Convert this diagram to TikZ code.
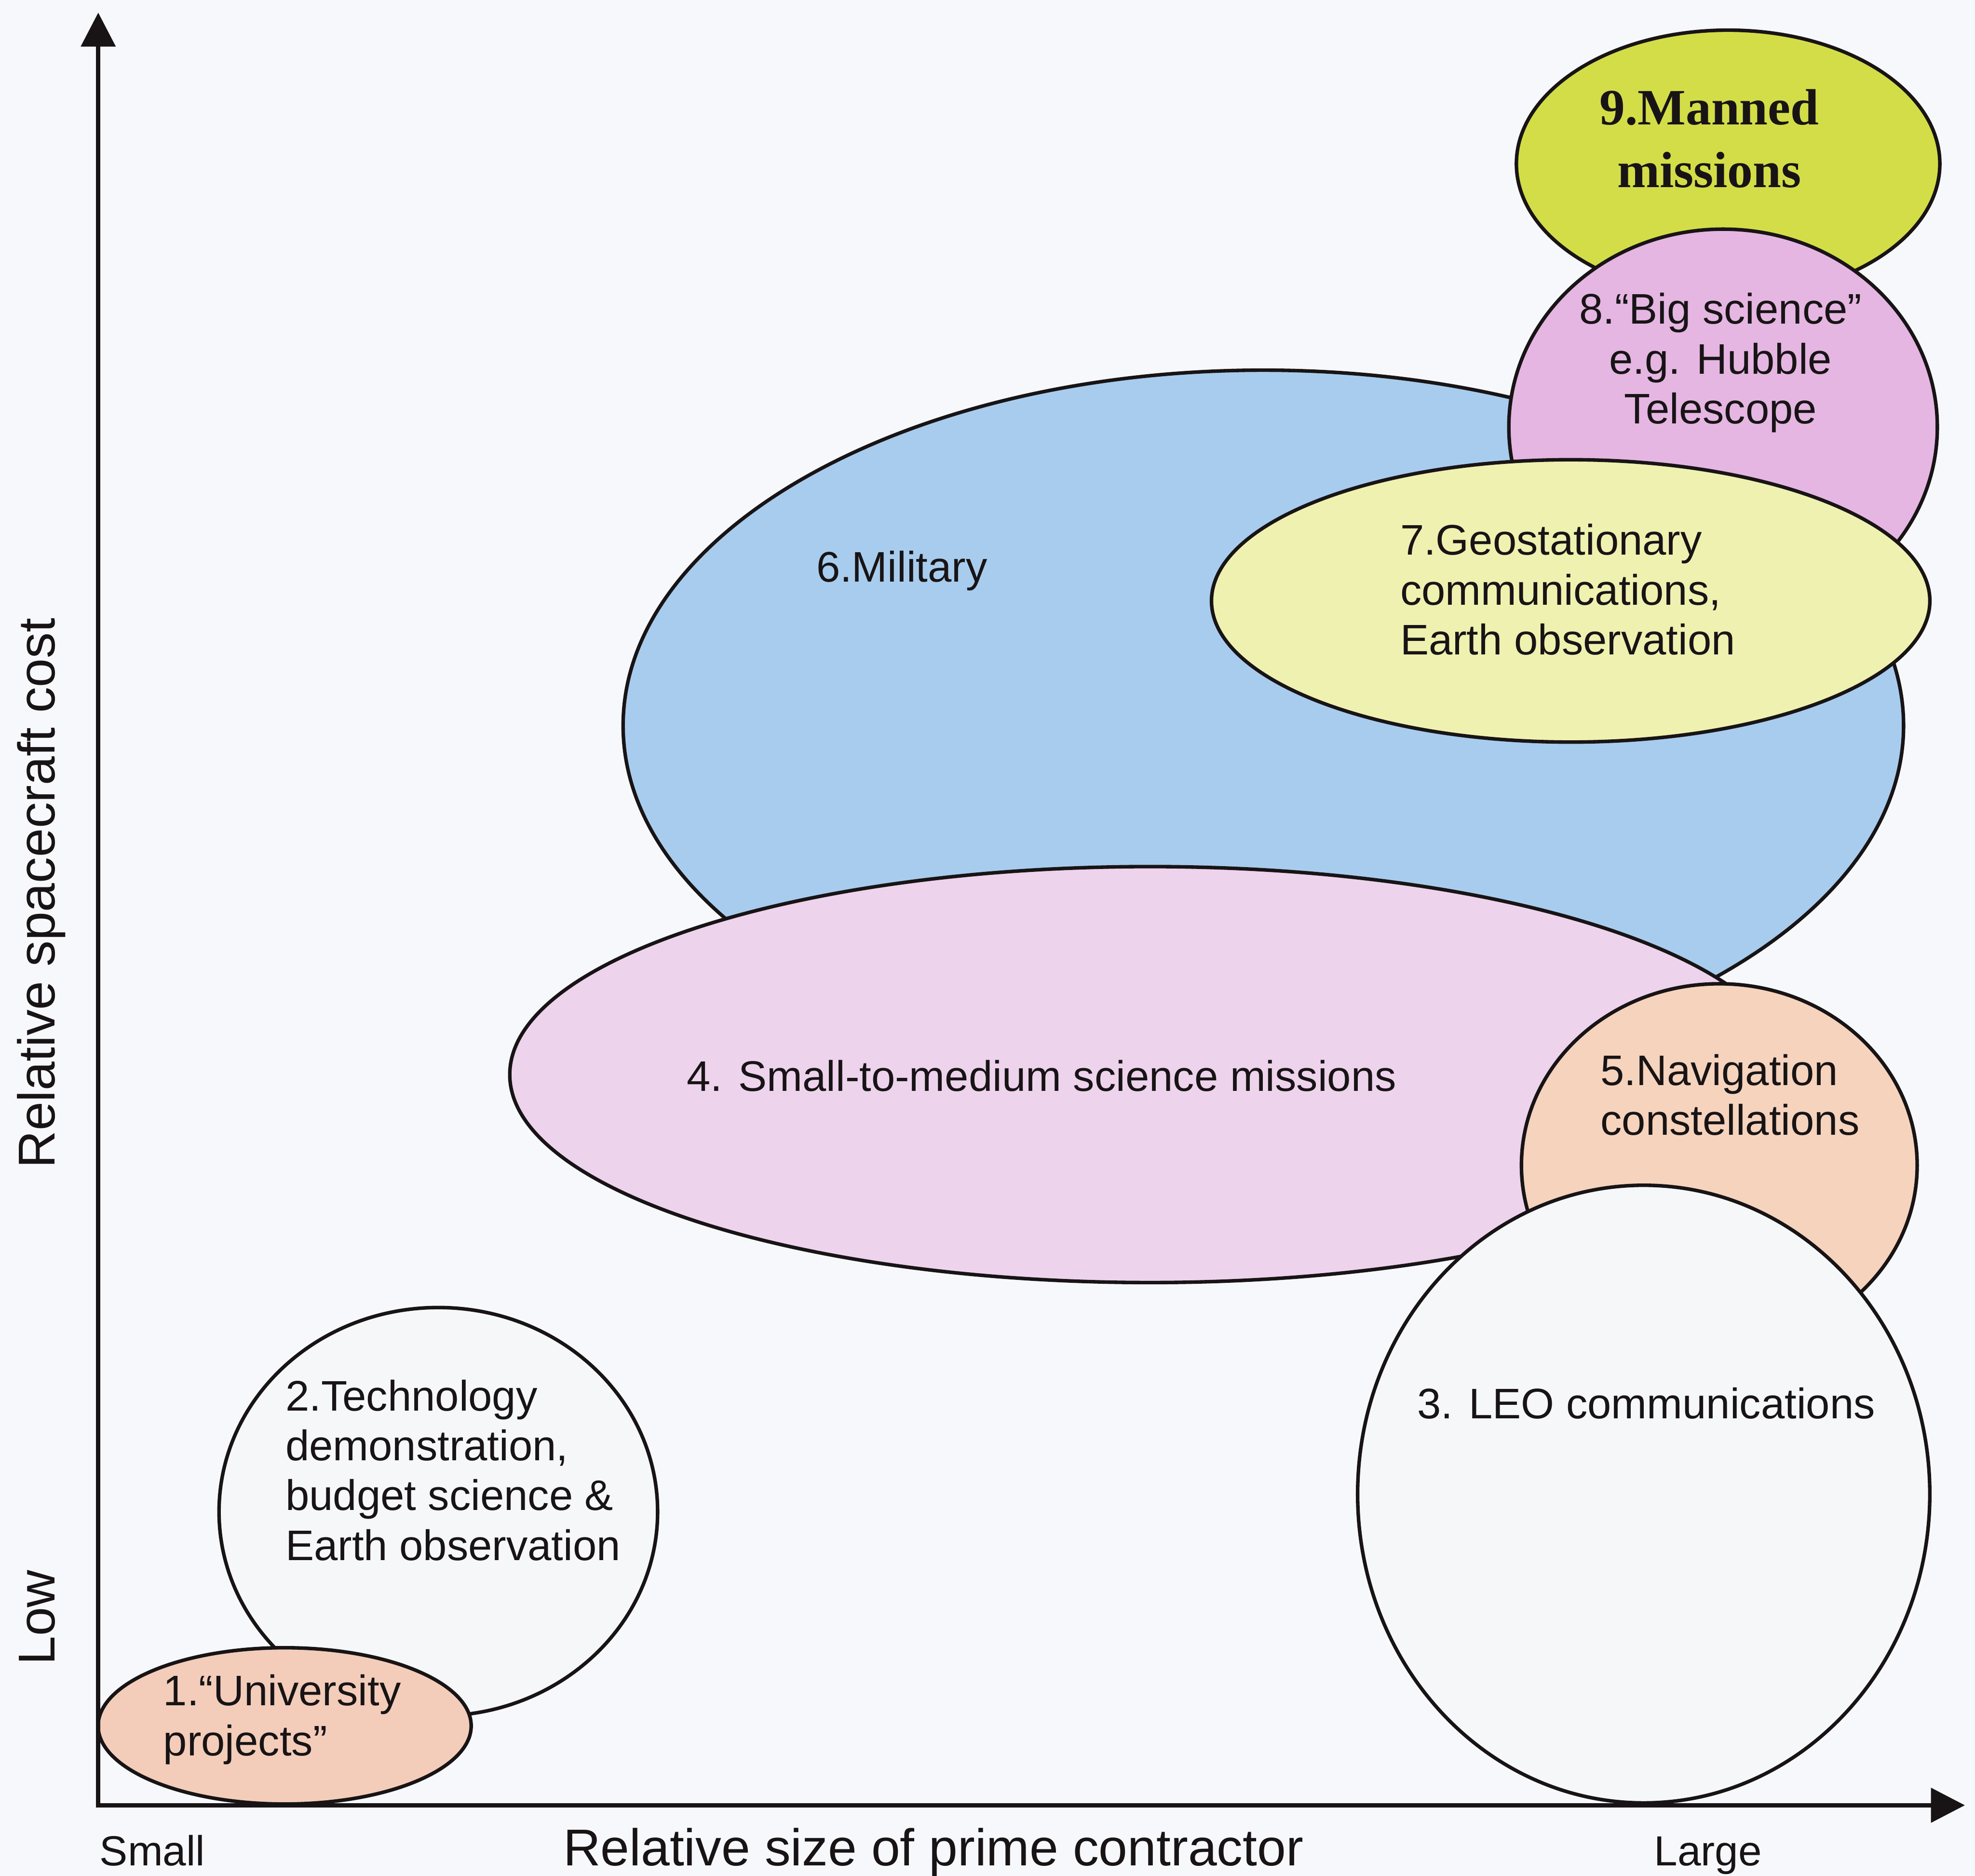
\documentclass[tikz,border=0pt]{standalone}
\usepackage{fontspec}
\setmainfont{Liberation Sans}
\newfontfamily\serifface{Liberation Serif}
\usetikzlibrary{arrows.meta}

\definecolor{paper}{RGB}{247,248,251}
\definecolor{ink}{RGB}{24,20,22}
\definecolor{mannedfill}{RGB}{211,221,72}
\definecolor{bigscifill}{RGB}{229,182,226}
\definecolor{geofill}{RGB}{239,241,176}
\definecolor{milfill}{RGB}{168,204,237}
\definecolor{smallscifill}{RGB}{237,211,236}
\definecolor{navfill}{RGB}{245,211,189}
\definecolor{unifill}{RGB}{243,205,186}
\definecolor{plainfill}{RGB}{245,247,248}

\begin{document}
\begin{tikzpicture}[x=0.01cm, y=-0.01cm,
  zone/.style={draw=ink, line width=0.8pt},
  axisline/.style={draw=ink, line width=1pt, line join=miter,
    {Triangle[length=0.27cm, width=0.27cm]}-{Triangle[length=0.27cm, width=0.27cm]}},
  lbl/.style={inner sep=0pt, text=ink, font=\fontsize{9.65}{11.25}\selectfont},
  axislbl/.style={inner sep=0pt, text=ink, font=\fontsize{11.7}{14}\selectfont},
  endlbl/.style={inner sep=0pt, text=ink, font=\fontsize{9.5}{11}\selectfont},
  boldlbl/.style={inner sep=0pt, text=ink, font=\serifface\bfseries\fontsize{11.5}{14.2}\selectfont}]

% page
\fill[paper] (0,0) rectangle (1568,1489);
\useasboundingbox (0,0) rectangle (1568,1489);

% mission classes, back to front
\draw[zone, fill=mannedfill]   (1372,130)  ellipse [x radius=1.68cm, y radius=1.06cm];
\draw[zone, fill=milfill]      (1003,576)  ellipse [x radius=5.08cm, y radius=2.82cm];
\draw[zone, fill=bigscifill]   (1368,339)  ellipse [x radius=1.70cm, y radius=1.57cm];
\draw[zone, fill=geofill]      (1247,477)  ellipse [x radius=2.85cm, y radius=1.12cm];
\draw[zone, fill=smallscifill] (913,853)   ellipse [x radius=5.08cm, y radius=1.65cm];
\draw[zone, fill=navfill]      (1365,925)  ellipse [x radius=1.57cm, y radius=1.44cm];
\draw[zone, fill=plainfill]    (1305,1186) ellipse [x radius=2.27cm, y radius=2.45cm];
\draw[zone, fill=plainfill]    (348,1200)  ellipse [x radius=1.74cm, y radius=1.62cm];
\draw[zone, fill=unifill]      (226,1370)  ellipse [x radius=1.48cm, y radius=0.62cm];

% axes
\coordinate (origin) at (78,1433);
\coordinate (ytip) at (78,10);
\coordinate (xtip) at (1560,1433);
\draw[axisline] (ytip) -- (origin) -- (xtip);

% class labels
\node[boldlbl, align=center] (manned) at (1357,110) {9.Manned\\missions};
\node[lbl, align=center] (bigsci) at (1366,288) {8.“Big science”\\e.g. Hubble\\Telescope};
\node[lbl, align=left, anchor=west] (geo) at (1111,468) {7.Geostationary\\communications,\\Earth observation};
\node[lbl] (military) at (716,453) {6.Military};
\node[lbl, align=left, anchor=west] (nav) at (1270,869) {5.Navigation\\constellations};
\node[lbl] (smallsci) at (827,854) {4. Small-to-medium science missions};
\node[lbl] (leo) at (1307,1114) {3. LEO communications};
\node[lbl, align=left, anchor=west] (techdemo) at (226,1167) {2.Technology\\demonstration,\\budget science \&\\Earth observation};
\node[lbl, align=left, anchor=west] (univ) at (129,1365) {1.“University\\projects”};

% axis labels
\node[axislbl, anchor=base] (xtitle) at (741,1481) {Relative size of prime contractor};
\node[endlbl, anchor=base] (small) at (121,1481) {Small};
\node[endlbl, anchor=base] (large) at (1356,1481) {Large};
\node[axislbl, rotate=90, anchor=base] (ytitle) at (43.5,709) {Relative spacecraft cost};
\node[axislbl, rotate=90, anchor=base] (low) at (43.5,1284) {Low};
\end{tikzpicture}
\end{document}
